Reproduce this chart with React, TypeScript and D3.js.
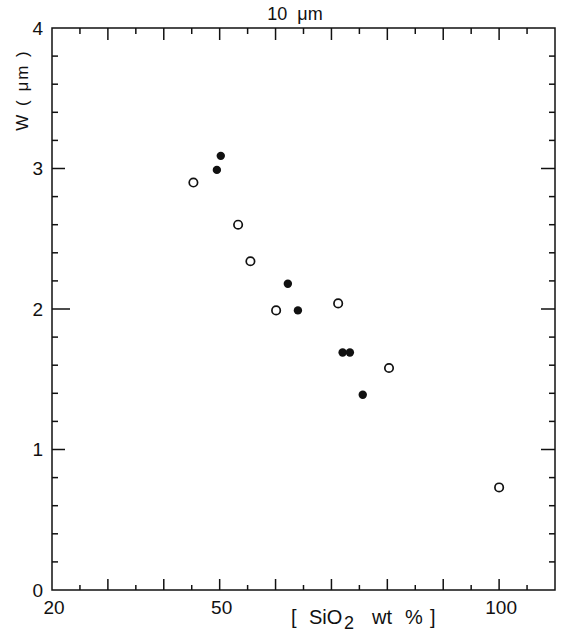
import React from "react";
import * as d3 from "d3";

const openX = [45.3, 53.3, 55.5, 60.1, 71.2, 80.3, 100.0];
const openY = [2.9, 2.6, 2.34, 1.99, 2.04, 1.58, 0.73];
const filledX = [50.2, 49.5, 62.2, 64.0, 72.0, 73.3, 75.6];
const filledY = [3.09, 2.99, 2.18, 1.99, 1.69, 1.69, 1.39];
const xTickLabels = [20, 50, 100];
const yTickLabels = [0, 1, 2, 3, 4];

const W = 570;
const H = 635;
const left = 52;
const right = 555;
const top = 28;
const bottom = 590;
const FONT = "'Liberation Sans', Arial, sans-serif";

export default function App() {
  const x = d3.scaleLinear().domain([20, 110]).range([left, right]);
  const y = d3.scaleLinear().domain([0, 4]).range([bottom, top]);

  const xTicks = d3.range(25, 110, 5);
  const yTicks = d3.range(1, 20).map((i) => i * 0.2);

  return (
    <svg
      width={W}
      height={H}
      style={{ position: "absolute", left: 0, top: 0, background: "#fff" }}
    >
      <rect x={0} y={0} width={W} height={H} fill="#fff" />
      <g stroke="#111" strokeWidth={1.5} fill="none">
        <rect x={left} y={top} width={right - left} height={bottom - top} />
        {xTicks.map((t) => {
          const major = Math.abs(t % 10) < 1e-6;
          const px = x(t);
          return (
            <g key={"xt" + t}>
              <line x1={px} x2={px} y1={bottom} y2={bottom - (major ? 11 : 5)} />
              <line x1={px} x2={px} y1={top} y2={top + (major ? 12 : 6)} />
            </g>
          );
        })}
        {yTicks.map((t, i) => {
          const major = (i + 1) % 5 === 0;
          const py = y(t);
          const isTwo = Math.abs(t - 2) < 1e-6;
          return (
            <g key={"yt" + i}>
              <line x1={left} x2={left + (isTwo ? 18 : major ? 13 : 6)} y1={py} y2={py} />
              <line x1={right} x2={right - (major ? 14 : 6)} y1={py} y2={py} />
            </g>
          );
        })}
      </g>

      <g fontFamily={FONT} fontSize={19} fill="#111">
        {xTickLabels.map((t) => (
          <text key={"xl" + t} x={x(t) + 2} y={614} textAnchor="middle">
            {t}
          </text>
        ))}
        {yTickLabels.map((t) => (
          <text key={"yl" + t} x={43} y={y(t)} dy="0.35em" textAnchor="end">
            {t}
          </text>
        ))}
      </g>

      <text
        x={295}
        y={20}
        textAnchor="middle"
        fontFamily={FONT}
        fontSize={18}
        fill="#111"
        style={{ whiteSpace: "pre" }}
      >
        {"10  μm"}
      </text>

      <text
        transform="translate(28,90) rotate(-90)"
        textAnchor="middle"
        fontFamily={FONT}
        fontSize={17}
        letterSpacing={2}
        fill="#111"
        style={{ whiteSpace: "pre" }}
      >
        {"W ( μm )"}
      </text>

      <text fontFamily={FONT} fontSize={20} fill="#111" y={624}>
        <tspan x={291}>[</tspan>
        <tspan x={309}>SiO</tspan>
        <tspan x={344} dy={5} fontSize={18}>2</tspan>
        <tspan x={372} dy={-5}>wt</tspan>
        <tspan x={405}>%</tspan>
        <tspan x={430}>]</tspan>
      </text>

      <g>
        {openX.map((v, i) => (
          <circle
            key={"o" + i}
            cx={x(v)}
            cy={y(openY[i])}
            r={4.2}
            fill="#fff"
            stroke="#111"
            strokeWidth={1.7}
          />
        ))}
        {filledX.map((v, i) => (
          <circle key={"f" + i} cx={x(v)} cy={y(filledY[i])} r={4.2} fill="#111" />
        ))}
      </g>
    </svg>
  );
}
